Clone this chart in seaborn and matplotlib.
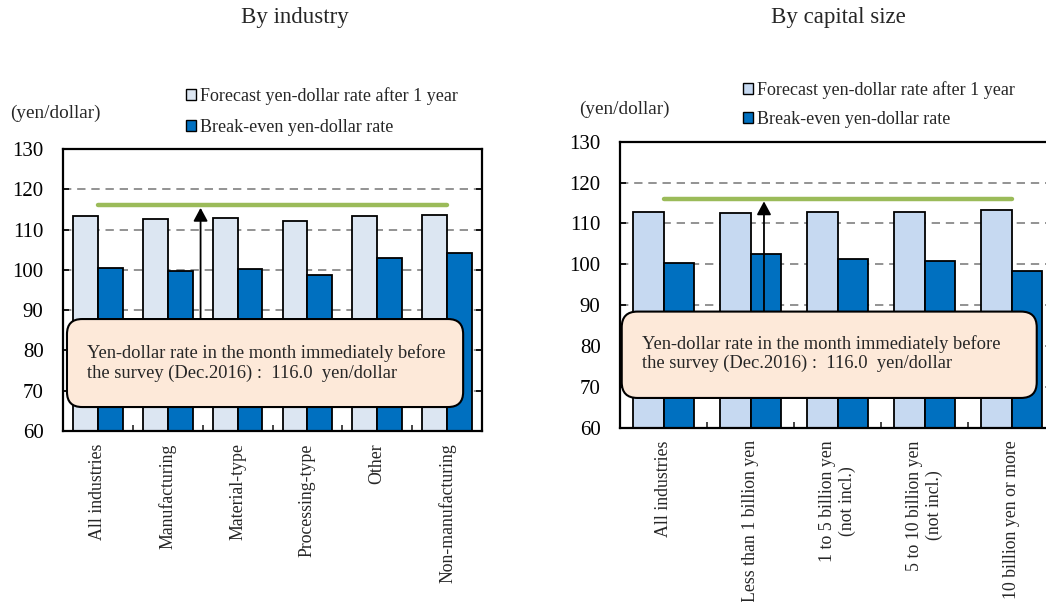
import matplotlib
matplotlib.use("Agg")
import matplotlib.pyplot as plt
from matplotlib.patches import Patch, FancyBboxPatch
import seaborn as sns
import pandas as pd

sns.set_style("white")
plt.rcParams["font.family"] = ["Liberation Serif", "DejaVu Serif"]

# ---- data ----
industry_cats = ["All industries", "Manufacturing", "Material-type",
                 "Processing-type", "Other", "Non-manufacturing"]
industry_forecast = [113.3, 112.5, 112.9, 112.1, 113.3, 113.7]
industry_breakeven = [100.5, 99.7, 100.1, 98.8, 103.0, 104.3]

capital_cats = ["All industries", "Less than 1 billion yen",
                "1 to 5 billion yen\n(not incl.)", "5 to 10 billion yen\n(not incl.)",
                "10 billion yen or more"]
capital_forecast = [112.9, 112.5, 112.9, 112.9, 113.2]
capital_breakeven = [100.4, 102.5, 101.2, 100.8, 98.3]

series_names = ["Forecast yen-dollar rate after 1 year", "Break-even yen-dollar rate"]
current_rate = 116.0
note_text = ("Yen-dollar rate in the month immediately before\n"
             "the survey (Dec.2016) :  116.0  yen/dollar")
unit_label = "(yen/dollar)"
titles = ["By industry", "By capital size"]

dark_blue = "#0070C0"
light_left = "#DCE6F2"
light_right = "#C6D9F1"
green = "#9BBB59"
note_fill = "#FDE9D9"

W, H = 1046, 602
fig = plt.figure(figsize=(W / 100, H / 100), dpi=100)


def px_axes(x0, y0, x1, y1):
    return fig.add_axes([x0 / W, 1 - y1 / H, (x1 - x0) / W, (y1 - y0) / H])


def long_frame(cats, forecast, breakeven):
    return pd.DataFrame({
        "category": cats * 2,
        "series": [series_names[0]] * len(cats) + [series_names[1]] * len(cats),
        "rate": list(forecast) + list(breakeven),
    })


def draw_panel(ax, cats, forecast, breakeven, light, box, text_pos, arrow_x):
    df = long_frame(cats, forecast, breakeven)
    sns.barplot(data=df, x="category", y="rate", hue="series", order=cats,
                hue_order=series_names, palette=[light, dark_blue], saturation=1,
                width=0.71, edgecolor="black", linewidth=1.3, legend=False, ax=ax,
                zorder=2)
    n = len(cats)
    ax.set_xlim(-0.5, n - 0.5)
    ax.set_ylim(60, 130)
    ax.set_yticks(range(60, 131, 10))
    ax.set_xlabel("")
    ax.set_ylabel("")
    ax.set_axisbelow(True)
    ax.yaxis.grid(True, color="#808080", linewidth=1.2, linestyle=(0, (5, 3.5)))
    ax.xaxis.grid(False)
    for s in ax.spines.values():
        s.set_visible(True)
        s.set_color("black")
        s.set_linewidth(1.6)
    ax.tick_params(axis="y", direction="in", length=4, width=1.2, left=True,
                   right=True, labelsize=15, pad=14, colors="black")
    ax.tick_params(axis="x", which="major", length=0, pad=9, labelsize=12.8,
                   labelrotation=90)
    ax.set_xticks([i + 0.5 for i in range(n - 1)], minor=True)
    ax.tick_params(axis="x", which="minor", direction="in", length=4, width=1.2,
                   bottom=True)
    for lab in ax.get_xticklabels():
        lab.set_multialignment("center")

    # current exchange rate line across the categories
    ax.plot([0, n - 1], [current_rate, current_rate], color=green, linewidth=3.2,
            solid_capstyle="round", zorder=3)

    # rounded note box (axes coordinates, aspect-corrected corners)
    bb = ax.get_position()
    aspect = (bb.width * W) / (bb.height * H)
    x0, y0, x1, y1 = box
    patch = FancyBboxPatch((x0, y0), x1 - x0, y1 - y0,
                           boxstyle="round,pad=0,rounding_size=0.036",
                           mutation_aspect=aspect, transform=ax.transAxes,
                           facecolor=note_fill, edgecolor="black", linewidth=1.5,
                           zorder=5)
    ax.add_patch(patch)
    ax.text(text_pos[0], text_pos[1], note_text, transform=ax.transAxes,
            ha="left", va="center", fontsize=13.3, linespacing=1.15, zorder=6)

    # arrow from the note up to the rate line
    y_box_top = 60 + y1 * 70
    ax.annotate("", xy=(arrow_x, current_rate - 0.6), xytext=(arrow_x, y_box_top),
                arrowprops=dict(arrowstyle="-|>,head_length=0.8,head_width=0.43",
                                color="black", linewidth=1.3, shrinkA=0, shrinkB=0),
                zorder=4)

    handles = [Patch(facecolor=light, edgecolor="black", linewidth=1.0),
               Patch(facecolor=dark_blue, edgecolor="black", linewidth=1.0)]
    return handles


ax1 = px_axes(63, 149, 482, 431)
h1 = draw_panel(ax1, industry_cats, industry_forecast, industry_breakeven, light_left,
                box=(0.0095, 0.085, 0.955, 0.397), text_pos=(0.057, 0.241),
                arrow_x=1.47)

ax2 = px_axes(620, 141.7, 1055, 427.7)
h2 = draw_panel(ax2, capital_cats, capital_forecast, capital_breakeven, light_right,
                box=(0.004, 0.104, 0.958, 0.406), text_pos=(0.05, 0.259),
                arrow_x=1.155)

legend_kw = dict(frameon=False, fontsize=13, handlelength=0.55, handleheight=0.55,
                 handletextpad=0.2, borderpad=0, borderaxespad=0,
                 loc="center left", bbox_transform=fig.transFigure)
fig.legend(h1, series_names, bbox_to_anchor=(186 / W, 1 - 111.5 / H),
           labelspacing=0.78, **legend_kw)
fig.legend(h2, series_names, bbox_to_anchor=(743 / W, 1 - 104.5 / H),
           labelspacing=0.68, **legend_kw)

fig.text(10 / W, 1 - 113 / H, unit_label, ha="left", va="center", fontsize=13.8)
fig.text(579 / W, 1 - 109 / H, unit_label, ha="left", va="center", fontsize=13.8)

fig.text(295 / W, 1 - 18 / H, titles[0], ha="center", va="center", fontsize=16.5)
fig.text(838 / W, 1 - 18 / H, titles[1], ha="center", va="center", fontsize=16.5)

fig.savefig("out.png", dpi=100, facecolor="white")
